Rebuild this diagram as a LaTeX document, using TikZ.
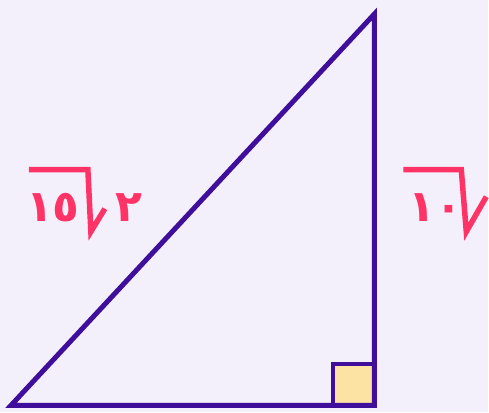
\documentclass[tikz,border=0pt]{standalone}
\usepackage{fontspec}
\newfontfamily\arabicfont[Script=Arabic]{DejaVu Sans}
\TeXXeTstate=1
\definecolor{bgcol}{HTML}{F3F0FC}
\definecolor{edgecol}{HTML}{3F0E9A}
\definecolor{labcol}{HTML}{FF3366}
\definecolor{sqcol}{HTML}{FCE3A3}
\tikzset{
    lab/.style={text=labcol, inner sep=0pt, font=\arabicfont\bfseries\fontsize{44}{44}\selectfont},
    radical/.style={draw=labcol, line width=5.5pt, line join=miter}
}
\begin{document}
\begin{tikzpicture}[x=1pt,y=-1pt]
    \fill[bgcol] (0,0) rectangle (489,413);
    \coordinate (A) at (11,406);
    \coordinate (B) at (375,14);
    \coordinate (C) at (375,406);
    \draw[line width=4pt, edgecol, fill=sqcol] (C) rectangle ++(-41,-41);
    \draw[line width=5pt, edgecol, line join=miter] (A) -- (B) -- (C) -- cycle;
    % left side: 2 root 15
    \node[lab] (L15) at (53,208) {١٥};
    \node[lab] (L2) at (129,208) {٢};
    \draw[radical] (29,170) -- (88,170) -- (91,232) -- (105,209);
    % right side: root 10
    \node[lab] (R10) at (436,208) {١٠};
    \draw[radical] (404,170) -- (462,170) -- (467,232) -- (487,197);
\end{tikzpicture}
\end{document}
